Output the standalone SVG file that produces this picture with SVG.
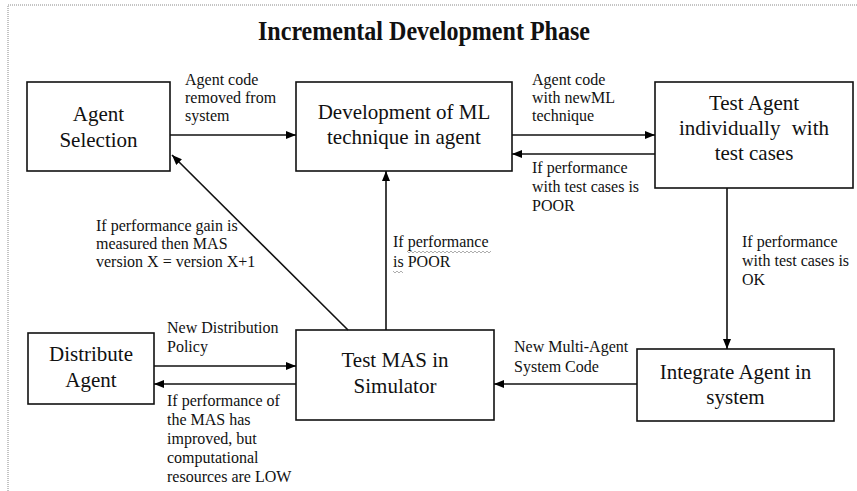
<svg xmlns="http://www.w3.org/2000/svg" width="857" height="491" viewBox="0 0 857 491" font-family="'Liberation Serif', 'Times New Roman', serif">
<defs>
<marker id="ah" markerWidth="10" markerHeight="8" refX="10" refY="4" orient="auto" markerUnits="userSpaceOnUse">
<path d="M0,0 L10,4 L0,8 Z" fill="#000"/>
</marker>
<style>
.box{fill:#fff;stroke:#111;stroke-width:1.6}
.bt{font-size:21px;fill:#111;text-anchor:middle}
.lb{font-size:16px;fill:#111}
.ln{fill:none;stroke:#111;stroke-width:1.6;marker-end:url(#ah)}
.sq{fill:none;stroke:#999;stroke-width:0.8}
</style>
</defs>
<rect width="857" height="491" fill="#fff"/>
<path d="M8,491 V5 H857" fill="none" stroke="#888" stroke-width="1" stroke-dasharray="1 1"/>
<text x="424" y="40" font-size="27" font-weight="bold" text-anchor="middle" textLength="332" lengthAdjust="spacingAndGlyphs" fill="#111">Incremental Development Phase</text>

<g id="agent-selection">
<rect class="box" x="27" y="82" width="143" height="89"/>
<text class="bt" x="98.5" y="121">Agent</text>
<text class="bt" x="98.5" y="147">Selection</text>
</g>
<g id="development">
<rect class="box" x="296" y="82" width="216" height="89"/>
<text class="bt" x="404" y="119">Development of ML</text>
<text class="bt" x="404" y="144">technique in agent</text>
</g>
<g id="test-agent">
<rect class="box" x="655" y="82" width="198" height="106"/>
<text class="bt" x="754" y="110">Test Agent</text>
<text class="bt" x="754" y="135" word-spacing="6">individually with</text>
<text class="bt" x="754" y="160">test cases</text>
</g>
<g id="distribute-agent">
<rect class="box" x="28" y="333" width="126" height="71"/>
<text class="bt" x="91" y="361">Distribute</text>
<text class="bt" x="91" y="387">Agent</text>
</g>
<g id="test-mas">
<rect class="box" x="296" y="330" width="198" height="90"/>
<text class="bt" x="395" y="367">Test MAS in</text>
<text class="bt" x="395" y="393">Simulator</text>
</g>
<g id="integrate-agent">
<rect class="box" x="637" y="349" width="197" height="72"/>
<text class="bt" x="735.5" y="379">Integrate Agent in</text>
<text class="bt" x="735.5" y="404">system</text>
</g>

<g id="connectors">
<line class="ln" x1="170" y1="135" x2="296" y2="135"/>
<line class="ln" x1="512" y1="135" x2="655" y2="135"/>
<line class="ln" x1="655" y1="154" x2="512" y2="154"/>
<line class="ln" x1="727" y1="188" x2="727" y2="349"/>
<line class="ln" x1="637" y1="384" x2="494" y2="384"/>
<line class="ln" x1="386" y1="330" x2="386" y2="171"/>
<line class="ln" x1="348" y1="330" x2="172" y2="155"/>
<line class="ln" x1="154" y1="366" x2="296" y2="366"/>
<line class="ln" x1="296" y1="384" x2="154" y2="384"/>
</g>

<g id="labels">
<text class="lb" x="185" y="85">Agent code</text>
<text class="lb" x="185" y="103">removed from</text>
<text class="lb" x="185" y="121">system</text>
<text class="lb" x="532" y="85">Agent code</text>
<text class="lb" x="532" y="103">with newML</text>
<text class="lb" x="532" y="121">technique</text>
<text class="lb" x="532" y="173">If performance</text>
<text class="lb" x="532" y="192">with test cases is</text>
<text class="lb" x="532" y="211">POOR</text>
<text class="lb" x="96" y="231">If performance gain is</text>
<text class="lb" x="96" y="249">measured then MAS</text>
<text class="lb" x="96" y="267">version X = version X+1</text>
<text class="lb" x="393" y="247">If performance</text>
<text class="lb" x="393" y="267">is POOR</text>
<path class="sq" d="M407,251 l2,2 l2,-2 l2,2 l2,-2 l2,2 l2,-2 l2,2 l2,-2 l2,2 l2,-2 l2,2 l2,-2 l2,2 l2,-2 l2,2 l2,-2 l2,2 l2,-2 l2,2 l2,-2 l2,2 l2,-2 l2,2 l2,-2 l2,2 l2,-2 l2,2 l2,-2 l2,2 l2,-2 l2,2 l2,-2 l2,2 l2,-2 l2,2 l2,-2 l2,2 l2,-2 l2,2 l2,-2 l2,2 l2,-2"/>
<path class="sq" d="M393,271 l2,2 l2,-2 l2,2 l2,-2 l2,2"/>
<text class="lb" x="742" y="247">If performance</text>
<text class="lb" x="742" y="266">with test cases is</text>
<text class="lb" x="742" y="285">OK</text>
<text class="lb" x="167" y="333">New Distribution</text>
<text class="lb" x="167" y="352">Policy</text>
<text class="lb" x="514" y="352">New Multi-Agent</text>
<text class="lb" x="514" y="372">System Code</text>
<text class="lb" x="167" y="406">If performance of</text>
<text class="lb" x="167" y="425">the MAS has</text>
<text class="lb" x="167" y="444">improved, but</text>
<text class="lb" x="167" y="463">computational</text>
<text class="lb" x="167" y="482">resources are LOW</text>
</g>
</svg>
